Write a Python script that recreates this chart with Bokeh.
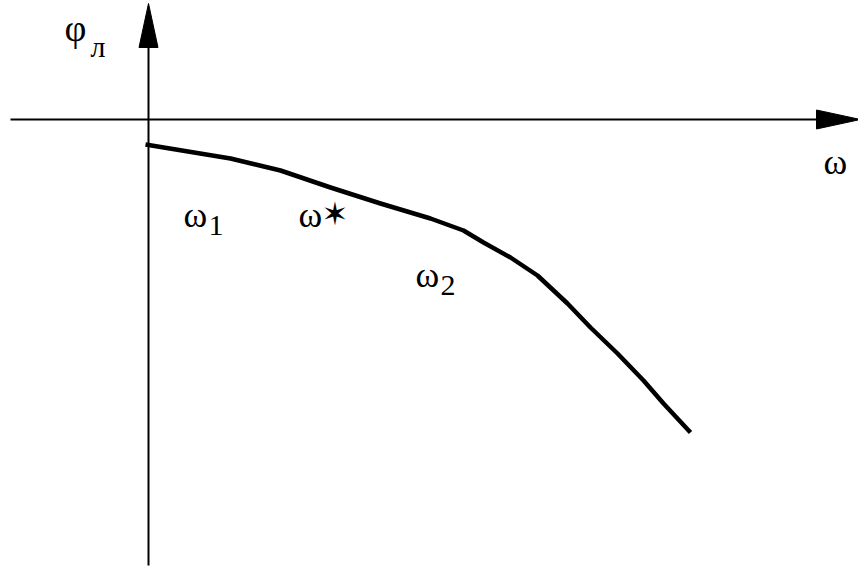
from bokeh.plotting import figure
from bokeh.models import Range1d, Label
from bokeh.embed import file_html
from bokeh.resources import INLINE

# Curve data (omega, phi_л) in drawing units, origin at axis crossing
omega = [-3, 82, 132, 182, 232, 282, 315, 335, 362, 389, 419, 442, 469, 495, 515, 542]
phi = [-25, -39, -51, -68, -84, -99, -111, -123, -138, -156, -184, -208, -234, -261, -284, -313]

# Axis extents
x_axis_start, x_axis_end = -138, 712
y_axis_start, y_axis_end = -446, 116
head_len, head_half = 44, 9.5

p = figure(width=858, height=569, output_backend="svg", toolbar_location=None,
           x_range=Range1d(-148, 710), y_range=Range1d(-450, 119),
           min_border=0, outline_line_color=None)
p.axis.visible = False
p.grid.visible = False

# axes lines
p.line([x_axis_start, x_axis_end - head_len + 2], [0, 0], line_color="black", line_width=2)
p.line([0, 0], [y_axis_start, y_axis_end - head_len + 2], line_color="black", line_width=2)
# arrow heads
p.patch([x_axis_end - head_len, x_axis_end, x_axis_end - head_len],
        [head_half, 0, -head_half], color="black", line_width=1)
p.patch([-head_half, 0, head_half],
        [y_axis_end - head_len, y_axis_end, y_axis_end - head_len], color="black", line_width=1)

# curve
p.line(omega, phi, line_color="black", line_width=4.5, line_join="round")

font = "Liberation Serif"
dy = 14
def lab(x, y, t, size, f=font):
    p.add_layout(Label(x=x, y=y + dy, text=t, text_font=f, text_font_size=f"{size}px",
                       text_color="black", text_baseline="alphabetic", text_align="left"))

lab(-84, 78, "φ", 38)
lab(-58, 59, "л", 30)
lab(35, -109, "ω", 36)
lab(60, -120, "1", 30)
lab(150, -109, "ω", 36)
lab(173, -108, "✶", 32, "DejaVu Sans")
lab(267, -169, "ω", 36)
lab(292, -180, "2", 30)
lab(675, -56, "ω", 36)

open("out.html", "w").write(file_html(p, INLINE))
